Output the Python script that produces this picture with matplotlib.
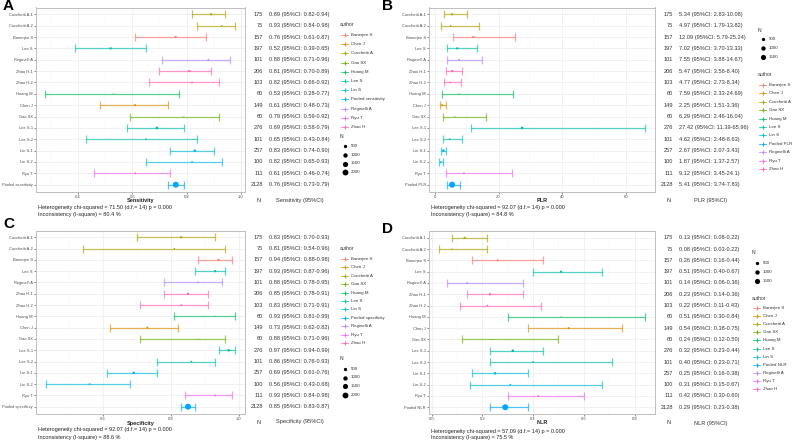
import matplotlib
matplotlib.use("Agg")
import matplotlib.pyplot as plt
from matplotlib.lines import Line2D
from matplotlib.transforms import blended_transform_factory
import numpy as np

plt.rcParams['font.family'] = ['Liberation Sans', 'DejaVu Sans']

# ---------------- data ----------------
studies = ["Cucchetti A-1", "Cucchetti A-2", "Banerjee S", "Lee S", "Reginelli A",
           "Zhao H-1", "Zhao H-2", "Huang M", "Chen J", "Gao SX", "Lee S-1",
           "Lee S-2", "Lin S-1", "Lin S-2", "Ryu T"]
study_authors = ["Cucchetti A", "Cucchetti A", "Banerjee S", "Lee S", "Reginelli A",
                 "Zhao H", "Zhao H", "Huang M", "Chen J", "Gao SX", "Lee S",
                 "Lee S", "Lin S", "Lin S", "Ryu T"]
n_values = [175, 75, 157, 197, 101, 206, 103, 60, 149, 60, 276, 101, 257, 100, 111, 2128]

sens_est = [0.89, 0.93, 0.76, 0.52, 0.88, 0.81, 0.82, 0.53, 0.61, 0.79, 0.69, 0.65, 0.83, 0.82, 0.61, 0.76]
sens_lo = [0.82, 0.84, 0.61, 0.39, 0.71, 0.70, 0.66, 0.28, 0.48, 0.59, 0.58, 0.43, 0.74, 0.65, 0.46, 0.73]
sens_hi = [0.94, 0.98, 0.87, 0.65, 0.96, 0.89, 0.92, 0.77, 0.73, 0.92, 0.79, 0.84, 0.90, 0.93, 0.74, 0.79]

plr_est = [5.34, 4.97, 12.09, 7.02, 7.55, 5.47, 4.77, 7.59, 2.25, 6.29, 27.42, 4.62, 2.67, 1.87, 9.12, 5.41]
plr_lo = [2.83, 1.79, 5.79, 3.70, 3.88, 3.56, 2.73, 2.33, 1.51, 2.46, 11.39, 2.48, 2.07, 1.37, 3.45, 3.74]
plr_hi = [10.08, 13.82, 25.24, 13.33, 14.67, 8.40, 8.34, 24.69, 3.36, 16.04, 65.96, 8.63, 3.43, 2.57, 24.1, 7.83]
plr_hi_txt = ["10.08", "13.82", "25.24", "13.33", "14.67", "8.40", "8.34", "24.69", "3.36", "16.04",
              "65.96", "8.63", "3.43", "2.57", "24.1", "7.83"]

spec_est = [0.83, 0.81, 0.94, 0.93, 0.88, 0.85, 0.83, 0.93, 0.73, 0.88, 0.97, 0.86, 0.69, 0.56, 0.93, 0.85]
spec_lo = [0.70, 0.54, 0.88, 0.87, 0.78, 0.78, 0.71, 0.81, 0.62, 0.71, 0.94, 0.76, 0.61, 0.43, 0.84, 0.83]
spec_hi = [0.93, 0.96, 0.98, 0.96, 0.95, 0.91, 0.91, 0.99, 0.82, 0.96, 0.99, 0.93, 0.76, 0.68, 0.98, 0.87]

nlr_est = [0.13, 0.08, 0.26, 0.51, 0.14, 0.23, 0.22, 0.51, 0.54, 0.24, 0.32, 0.40, 0.25, 0.31, 0.42, 0.29]
nlr_lo = [0.08, 0.03, 0.16, 0.40, 0.06, 0.14, 0.11, 0.30, 0.38, 0.12, 0.23, 0.23, 0.16, 0.15, 0.30, 0.23]
nlr_hi = [0.22, 0.22, 0.44, 0.67, 0.36, 0.36, 0.43, 0.84, 0.75, 0.50, 0.44, 0.71, 0.38, 0.67, 0.60, 0.38]

legend_authors = ["Banerjee S", "Chen J", "Cucchetti A", "Gao SX", "Huang M", "Lee S",
                  "Lin S", "POOLED", "Reginelli A", "Ryu T", "Zhao H"]
palette = ["#F8766D", "#DB8E00", "#AEA200", "#64B200", "#00BD5C", "#00C1A7",
           "#00BADE", "#00A6FF", "#B385FF", "#EF67EB", "#FF63B6"]
color_of = dict(zip(legend_authors, palette))

# ---------------- layout helpers ----------------
W, H = 795, 442
fig = plt.figure(figsize=(W / 100, H / 100), dpi=100)


def fx(x):
    return x / W


def fy(y):
    return 1 - y / H


def dot_px(n):
    return 1.0 + 5.0 * np.sqrt((n - 60) / (2128 - 60))


def fmt2(v):
    return f"{v:.2f}"


def panel(box, est, lo, hi, hi_txt, pooled, major, minor, xlabel, xlabel_y, het, letter,
          letter_xy, ncol_x, est_x, head_y, head_label, head_label_x,
          legend_x, author_title_y, n_title_y, n_levels,
          author_spacing, n_item_ys):
    left, top, right, bottom = box
    ax = fig.add_axes([fx(left), fy(bottom), fx(right - left), (bottom - top) / H])
    labels = studies + [pooled]
    auths = study_authors + ["POOLED"]
    y = np.arange(len(labels))
    est = np.asarray(est); lo = np.asarray(lo); hi = np.asarray(hi)
    rng = hi.max() - lo.min()
    ax.set_xlim(lo.min() - 0.05 * rng, hi.max() + 0.05 * rng)
    ax.set_ylim(len(labels) - 0.4, -0.6)
    ax.set_xticks(major)
    ax.set_xticks(minor, minor=True)
    ax.set_yticks(y)
    ax.set_yticklabels(labels, fontsize=2.9, color="#4D4D4D")
    ax.set_xticklabels([str(m) for m in major], fontsize=3.0, color="#4D4D4D")
    ax.tick_params(axis="both", which="major", length=1.5, width=0.4, color="#333333", pad=0.8)
    ax.tick_params(axis="x", which="minor", length=0)
    ax.grid(True, which="major", color="#EBEBEB", lw=0.5)
    ax.grid(True, which="minor", axis="x", color="#F4F4F4", lw=0.35)
    ax.set_axisbelow(True)
    for s in ax.spines.values():
        s.set_color("#BFBFBF")
        s.set_linewidth(0.7)
    for i in range(len(labels)):
        c = color_of[auths[i]]
        ax.errorbar(est[i], y[i], xerr=[[est[i] - lo[i]], [hi[i] - est[i]]], fmt="none",
                    ecolor=c, elinewidth=0.9, capsize=2.6, capthick=0.9, alpha=0.65, zorder=2)
        d = dot_px(n_values[i]) * 0.72
        ax.scatter([est[i]], [y[i]], s=d * d, color=c, edgecolors="none", zorder=3)
    fig.text(fx((left + right) / 2), fy(xlabel_y), xlabel, ha="center", va="center",
             fontsize=4.0, fontweight="bold", color="#222222")

    # text columns
    tr = blended_transform_factory(fig.transFigure, ax.transData)
    for i in range(len(labels)):
        fig.text(fx(ncol_x), y[i], str(n_values[i]), transform=tr, ha="right", va="center",
                 fontsize=4.1, color="#333333")
        fig.text(fx(est_x), y[i], f"{fmt2(est[i])} (95%CI: {fmt2(lo[i])}-{hi_txt[i]})",
                 transform=tr, ha="left", va="center", fontsize=4.1, color="#333333")
    fig.text(fx(ncol_x - 4), fy(head_y), "N", ha="center", va="center", fontsize=4.1, color="#333333")
    fig.text(fx(head_label_x), fy(head_y), head_label, ha="left", va="center",
             fontsize=4.1, color="#333333")
    fig.text(fx(left + 2), fy(het[0][0]), het[0][1], ha="left", va="center", fontsize=4.0,
             color="#222222")
    fig.text(fx(left + 2), fy(het[1][0]), het[1][1], ha="left", va="center", fontsize=4.0,
             color="#222222")
    fig.text(fx(letter_xy[0]), fy(letter_xy[1]), letter, ha="left", va="center",
             fontsize=11, fontweight="bold")

    # author legend
    fig.text(fx(legend_x), fy(author_title_y), "author", ha="left", va="center", fontsize=3.6,
             color="#333333")
    for k, a in enumerate(legend_authors):
        yy = author_title_y + 10 + k * author_spacing
        c = color_of[a]
        fig.add_artist(Line2D([fx(legend_x + 1), fx(legend_x + 8)], [fy(yy), fy(yy)],
                              color=c, lw=0.7, alpha=0.7))
        fig.add_artist(Line2D([fx(legend_x + 4.5)] * 2, [fy(yy - 2), fy(yy + 2)],
                              color=c, lw=0.6, alpha=0.7))
        fig.add_artist(Line2D([fx(legend_x + 4.5)], [fy(yy)], marker="o", markersize=1.6,
                              color=c, markeredgewidth=0))
        lab = pooled if a == "POOLED" else a
        fig.text(fx(legend_x + 11), fy(yy), lab, ha="left", va="center", fontsize=3.2,
                 color="#333333")
    # N legend
    fig.text(fx(legend_x), fy(n_title_y), "N", ha="left", va="center", fontsize=3.6,
             color="#333333")
    for k, nv in enumerate(n_levels):
        yy = n_item_ys[k]
        fig.add_artist(Line2D([fx(legend_x + 4.5)], [fy(yy)], marker="o",
                              markersize=dot_px(nv) * 0.72, color="black", markeredgewidth=0))
        fig.text(fx(legend_x + 11), fy(yy), str(nv), ha="left", va="center", fontsize=3.2,
                 color="#333333")
    return ax


sens_hi_txt = [fmt2(v) for v in sens_hi]
spec_hi_txt = [fmt2(v) for v in spec_hi]
nlr_hi_txt = [fmt2(v) for v in nlr_hi]

# Panel A
panel((36, 7.5, 245, 191.5), sens_est, sens_lo, sens_hi, sens_hi_txt, "Pooled sensitivity",
      [0.4, 0.6, 0.8, 1.0], [0.3, 0.5, 0.7, 0.9], "Sensitivity", 201,
      [(207.5, "Heterogeneity chi-squared = 71.50 (d.f.= 14) p = 0.000"),
       (214.5, "Inconsistency (I-square) = 80.4 %")],
      "A", (3, 6), 263, 269, 201, "Sensitivity (95%CI)", 276,
      340, 25, 137, [500, 1000, 1500, 2000], 9.2, [146.5, 155, 163.5, 172])

# Panel B
panel((429, 7.5, 655, 191.5), plr_est, plr_lo, plr_hi, plr_hi_txt, "Pooled PLR",
      [0, 20, 40, 60], [10, 30, 50], "PLR", 200.5,
      [(207.5, "Heterogeneity chi-squared = 92.07 (d.f.= 14) p = 0.000"),
       (214.5, "Inconsistency (I-square) = 84.8 %")],
      "B", (382, 6), 673, 679, 201, "PLR (95%CI)", 694,
      758, 75, 31, [500, 1000, 1500], 8.4, [39, 48, 57])

# Panel C
panel((36, 230.5, 245, 413.5), spec_est, spec_lo, spec_hi, spec_hi_txt, "Pooled specificity",
      [0.6, 0.8, 1.0], [0.5, 0.7, 0.9], "Specificity", 423,
      [(430, "Heterogeneity chi-squared = 92.07 (d.f.= 14) p = 0.000"),
       (437, "Inconsistency (I-square) = 88.6 %")],
      "C", (3, 224), 263, 269, 422, "Specificity (95%CI)", 276,
      340, 249, 359, [500, 1000, 1500, 2000], 8.4, [369, 377.5, 386, 394.5])

# Panel D
panel((429, 231, 655, 414), nlr_est, nlr_lo, nlr_hi, nlr_hi_txt, "Pooled NLR",
      [0.0, 0.2, 0.4, 0.6, 0.8], [0.1, 0.3, 0.5, 0.7], "NLR", 423,
      [(431, "Heterogeneity chi-squared = 57.09 (d.f.= 14) p = 0.000"),
       (438, "Inconsistency (I-square) = 75.5 %")],
      "D", (382, 229), 673, 679, 423, "NLR (95%CI)", 694,
      752, 298, 253, [500, 1000, 1500], 8.1, [263, 272, 280.5])

fig.savefig("out.png", dpi=100)
